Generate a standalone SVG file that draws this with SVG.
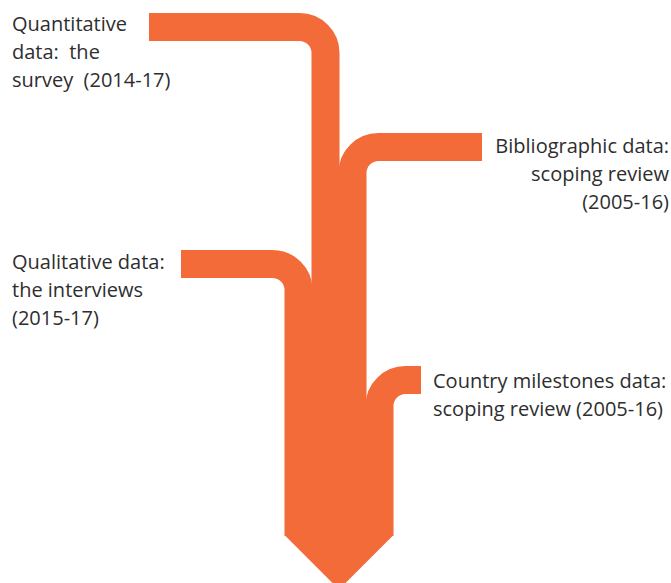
<svg xmlns="http://www.w3.org/2000/svg" width="671" height="583" viewBox="0 0 671 583">
  <style>
    .flow { fill: none; stroke: #F26B38; stroke-width: 28; }
    .body { fill: #F26B38; }
    .lbl { font-family: "Open Sans", "Noto Sans", sans-serif; font-size: 20px; fill: #2e2e2e; }
    .end { text-anchor: end; }
  </style>
  <rect width="671" height="583" fill="#ffffff"/>
  <g id="connectors">
    <path class="flow" d="M149,27 H299.5 A26,26 0 0 1 325.5,53 V536"/>
    <path class="flow" d="M482,147 H378.5 A26,26 0 0 0 352.5,173 V536"/>
    <path class="flow" d="M181,264 H272.5 A26,26 0 0 1 298.5,290 V536"/>
    <path class="flow" d="M421,380 H405.5 A26,26 0 0 0 379.5,406 V536"/>
    <polygon class="body" points="285,535.5 393,535.5 339,589.5"/>
  </g>
  <g id="quantitative">
    <text class="lbl" x="12" y="31" xml:space="preserve">Quantitative</text>
    <text class="lbl" x="12" y="59" xml:space="preserve">data:  the</text>
    <text class="lbl" x="12" y="87" xml:space="preserve">survey  (2014-17)</text>
  </g>
  <g id="bibliographic">
    <text class="lbl end" x="669" y="153">Bibliographic data:</text>
    <text class="lbl end" x="669" y="181">scoping review</text>
    <text class="lbl end" x="669" y="209">(2005-16)</text>
  </g>
  <g id="qualitative">
    <text class="lbl" x="12" y="269">Qualitative data:</text>
    <text class="lbl" x="12" y="297">the interviews</text>
    <text class="lbl" x="12" y="325">(2015-17)</text>
  </g>
  <g id="country">
    <text class="lbl" x="433" y="388">Country milestones data:</text>
    <text class="lbl" x="433" y="416">scoping review (2005-16)</text>
  </g>
</svg>
